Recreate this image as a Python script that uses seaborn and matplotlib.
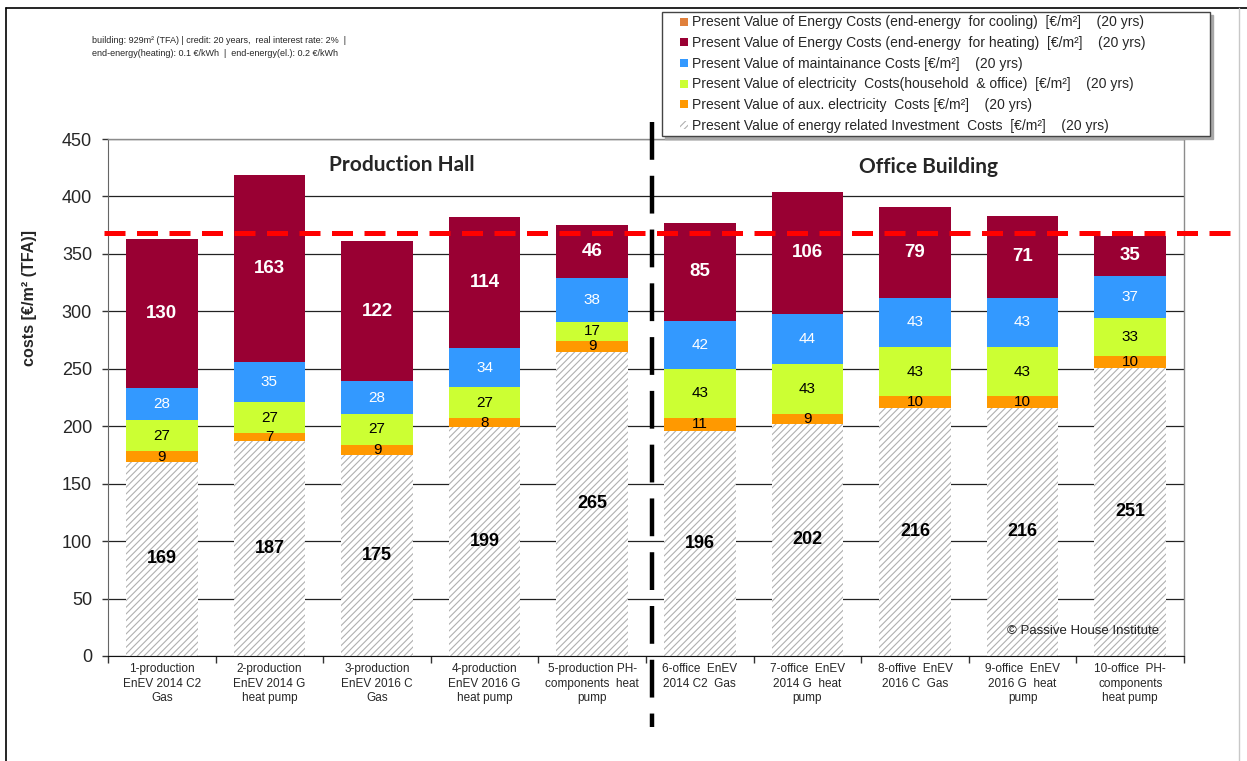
import matplotlib
matplotlib.use("Agg")
import matplotlib.pyplot as plt
import matplotlib.transforms as mtransforms
from matplotlib.patches import Patch, Rectangle
from matplotlib.lines import Line2D
from matplotlib.legend_handler import HandlerPatch
import numpy as np
import pandas as pd
import seaborn as sns

# ---- data -------------------------------------------------------------
categories = [
    "1-production\nEnEV 2014 C2\nGas",
    "2-production\nEnEV 2014 G\nheat pump",
    "3-production\nEnEV 2016 C\nGas",
    "4-production\nEnEV 2016 G\nheat pump",
    "5-production PH-\ncomponents  heat\npump",
    "6-office  EnEV\n2014 C2  Gas",
    "7-office  EnEV\n2014 G  heat\npump",
    "8-offive  EnEV\n2016 C  Gas",
    "9-office  EnEV\n2016 G  heat\npump",
    "10-office  PH-\ncomponents\nheat pump",
]
investment = [169, 187, 175, 199, 265, 196, 202, 216, 216, 251]
aux_electricity = [9, 7, 9, 8, 9, 11, 9, 10, 10, 10]
electricity = [27, 27, 27, 27, 17, 43, 43, 43, 43, 33]
maintenance = [28, 35, 28, 34, 38, 42, 44, 43, 43, 37]
heating = [130, 163, 122, 114, 46, 85, 106, 79, 71, 35]
cooling = [0, 0, 0, 0, 0, 0, 0, 0, 0, 0]
reference_cost = 368
y_ticks = [0, 50, 100, 150, 200, 250, 300, 350, 400, 450]

series_names = [
    "Present Value of Energy Costs (end-energy  for cooling)  [€/m²]    (20 yrs)",
    "Present Value of Energy Costs (end-energy  for heating)  [€/m²]    (20 yrs)",
    "Present Value of maintainance Costs [€/m²]    (20 yrs)",
    "Present Value of electricity  Costs(household  & office)  [€/m²]    (20 yrs)",
    "Present Value of aux. electricity  Costs [€/m²]    (20 yrs)",
    "Present Value of energy related Investment  Costs  [€/m²]    (20 yrs)",
]
info_text = ("building: 929m² (TFA) | credit: 20 years,  real interest rate: 2%  |\n"
             "end-energy(heating): 0.1 €/kWh  |  end-energy(el.): 0.2 €/kWh")

# ---- style ------------------------------------------------------------
sns.set_style("white")
plt.rcParams["font.family"] = ["Liberation Sans", "DejaVu Sans"]
plt.rcParams["hatch.linewidth"] = 0.8

C_COOL = "#E0803C"
C_HEAT = "#990033"
C_MAINT = "#3399FF"
C_ELEC = "#CCFF33"
C_AUX = "#FF9900"
C_HATCH = "#B0B0B0"

W, H = 1247, 761
fig = plt.figure(figsize=(W / 100, H / 100), dpi=100)
ax = fig.add_axes([108 / W, 105 / H, 1076 / W, 517 / H])

# stack order from bottom to top: values, fill, label colour, label size, label weight
layers = [
    (investment, "white", "black", 13, "bold"),
    (aux_electricity, C_AUX, "black", 11, "normal"),
    (electricity, C_ELEC, "black", 11, "normal"),
    (maintenance, C_MAINT, "white", 11, "normal"),
    (heating, C_HEAT, "white", 13.5, "bold"),
    (cooling, C_COOL, "white", 11, "normal"),
]
stack = np.array([l[0] for l in layers], dtype=float)
tops = np.cumsum(stack, axis=0)
bottoms = tops - stack

df = pd.DataFrame({"category": categories})
bar_w = 0.665
# draw cumulative totals from the top layer downward so each layer covers the one above
for k in range(len(layers) - 1, -1, -1):
    df["value"] = tops[k]
    kws = dict(data=df, x="category", y="value", order=categories, ax=ax,
               width=bar_w, saturation=1, errorbar=None)
    if k == 0:
        sns.barplot(**kws, color="white", hatch="/////", edgecolor=C_HATCH, linewidth=0)
    else:
        sns.barplot(**kws, color=layers[k][1], linewidth=0)

# segment value labels
for k, (vals, _, tcol, fsz, fw) in enumerate(layers):
    for i, v in enumerate(vals):
        if v <= 0:
            continue
        ax.text(i, bottoms[k][i] + v / 2, f"{v:g}", ha="center", va="center",
                color=tcol, fontsize=fsz, fontweight=fw)

# axes formatting
ax.set_xlim(-0.5, len(categories) - 0.5)
ax.set_ylim(y_ticks[0], y_ticks[-1])
ax.set_yticks(y_ticks)
ax.set_xticks(range(len(categories)))
ax.set_xticklabels(categories, fontsize=8.5, linespacing=1.3)
ax.set_xticks(np.arange(-0.5, len(categories), 1), minor=True)
ax.tick_params(axis="x", which="major", length=0, pad=5)
ax.tick_params(axis="x", which="minor", length=5, width=1, color="#333333",
               direction="out", bottom=True)
ax.tick_params(axis="y", length=4.5, width=1, color="#333333", direction="out", left=True,
               labelsize=13, pad=7)
ax.set_xlabel("")
ax.set_ylabel("")
ax.yaxis.grid(True, color="#222222", lw=0.9)
ax.set_axisbelow(True)
for s in ["top", "right"]:
    ax.spines[s].set_color("#8C8C8C")
    ax.spines[s].set_linewidth(1)
ax.spines["left"].set_color("#666666")
ax.spines["bottom"].set_color("#111111")
for s in ax.spines.values():
    s.set_visible(True)

# y-axis title
fig.text(30 / W, 1 - 298 / H, "costs [€/m² (TFA)]", rotation=90, ha="center", va="center",
         fontsize=11.6, fontweight="bold")

# reference line across the chart
trans_h = mtransforms.blended_transform_factory(ax.transAxes, ax.transData)
ax.add_line(Line2D([-0.004, 1.043], [reference_cost, reference_cost], transform=trans_h,
                   color="#FF0000", lw=3.6, linestyle=(0, (4.2, 2.3)), clip_on=False, zorder=5))

# divider between production hall and office building
trans_v = mtransforms.blended_transform_factory(ax.transData, ax.transAxes)
ax.add_line(Line2D([4.555, 4.555], [1.033, -0.137], transform=trans_v, color="black",
                   lw=3.2, linestyle=(0, (8.5, 3.6)), clip_on=False, zorder=5))

# group titles
ax.text(2.23, 427, "Production Hall", ha="center", va="center", fontsize=15,
        fontweight="bold", family="Lato")
ax.text(7.13, 425.5, "Office Building", ha="center", va="center", fontsize=15,
        fontweight="bold", family="Lato")
ax.text(0.906, 0.048, "© Passive House Institute", transform=ax.transAxes,
        ha="center", va="center", fontsize=9.5, color="#222222")

# info text
fig.text(92 / W, 1 - 36 / H, info_text, ha="left", va="top", fontsize=6.5, linespacing=1.55)


# legend: small square markers placed at the right end of an indented handle box
def small_square(legend, orig_handle, xdescent, ydescent, width, height, fontsize):
    return Rectangle((width - height - xdescent, -ydescent), height, height)


handles = [
    Patch(facecolor=C_COOL, edgecolor="none"),
    Patch(facecolor=C_HEAT, edgecolor="none"),
    Patch(facecolor=C_MAINT, edgecolor="none"),
    Patch(facecolor=C_ELEC, edgecolor="none"),
    Patch(facecolor=C_AUX, edgecolor="none"),
    Patch(facecolor="white", edgecolor=C_HATCH, hatch="/////", linewidth=0),
]
leg = fig.legend(
    handles, series_names, loc="upper left",
    bbox_to_anchor=(662 / W, 1 - 137 / H, 548 / W, 125 / H),
    bbox_transform=fig.transFigure, mode="expand", borderaxespad=0,
    fontsize=10, handlelength=1.6, handleheight=0.5, handletextpad=0.3,
    labelspacing=0.48, borderpad=0.25, frameon=True, fancybox=False,
    framealpha=1, edgecolor="#444444", shadow={"color": "#A8A8A8", "alpha": 1},
    handler_map={Patch: HandlerPatch(patch_func=small_square)})
leg.get_frame().set_linewidth(1)

# outer frame of the figure
fig.add_artist(Line2D([6 / W, 6 / W], [0, 1 - 8 / H], transform=fig.transFigure,
                      color="black", lw=1.2))
fig.add_artist(Line2D([6 / W, 1], [1 - 8 / H, 1 - 8 / H], transform=fig.transFigure,
                      color="black", lw=1.2))
fig.add_artist(Line2D([1239 / W, 1239 / W], [0, 1 - 8 / H], transform=fig.transFigure,
                      color="#C8C8C8", lw=1))

fig.savefig("out.png", dpi=100, facecolor="white")
